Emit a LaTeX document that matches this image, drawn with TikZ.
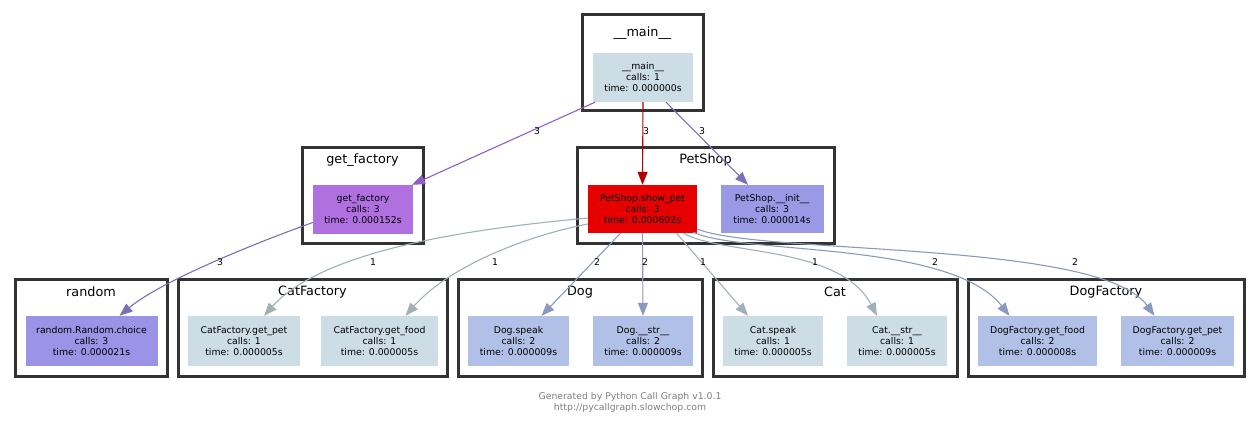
\documentclass[tikz,border=0pt]{standalone}
\usepackage{fontspec}
\setmainfont{DejaVu Sans}
\usetikzlibrary{arrows.meta}

\definecolor{clusterc}{RGB}{51,51,51}
\definecolor{mainc}{RGB}{204,221,230}
\definecolor{getfc}{RGB}{176,112,224}
\definecolor{showc}{RGB}{230,0,0}
\definecolor{initc}{RGB}{153,153,230}
\definecolor{randc}{RGB}{154,147,230}
\definecolor{dogc}{RGB}{176,192,230}
\definecolor{epurple}{RGB}{145,95,195}
\definecolor{ered}{RGB}{180,0,0}
\definecolor{eviolet}{RGB}{122,112,185}
\definecolor{egrey}{RGB}{160,176,182}
\definecolor{eblue}{RGB}{138,154,190}
\definecolor{footc}{RGB}{128,128,128}

\tikzset{
  cluster/.style={draw=clusterc, line width=3pt, rectangle, inner sep=0pt, minimum height=96pt},
  clabel/.style={font=\fontsize{12.8}{14}\selectfont, inner sep=0pt},
  fn/.style={rectangle, inner sep=0pt, minimum height=49pt, align=center,
    font=\fontsize{9.3}{11}\selectfont},
  elab/.style={font=\fontsize{9.3}{11}\selectfont, inner sep=0pt},
  call/.style={line width=1.1pt, -{Triangle[length=13pt,width=10pt]}},
}

\begin{document}
\begin{tikzpicture}[x=1pt,y=-1pt]
  \useasboundingbox (0,0) rectangle (1260,425);

  % clusters
  \node[cluster, minimum width=121pt] (cmain) at (642.5,63) {};
  \node[clabel] at (642.5,33) {\_\_main\_\_};
  \node[cluster, minimum width=121pt] (cgetf) at (362.5,195) {};
  \node[clabel] at (362.5,160) {get\_factory};
  \node[cluster, minimum width=257pt] (cpet) at (705.5,195) {};
  \node[clabel] at (705.5,160) {PetShop};
  \node[cluster, minimum width=152pt, minimum height=97pt] (crand) at (91,327.5) {};
  \node[clabel] at (91,292) {random};
  \node[cluster, minimum width=269pt, minimum height=97pt] (ccatf) at (312.5,327.5) {};
  \node[clabel] at (312.5,292) {CatFactory};
  \node[cluster, minimum width=244pt, minimum height=97pt] (cdog) at (580,327.5) {};
  \node[clabel] at (580,292) {Dog};
  \node[cluster, minimum width=244pt, minimum height=97pt] (ccat) at (835,327.5) {};
  \node[clabel] at (835,292) {Cat};
  \node[cluster, minimum width=276pt, minimum height=97pt] (cdogf) at (1106,327.5) {};
  \node[clabel] at (1106,292) {DogFactory};

  % functions
  \node[fn, fill=mainc, minimum width=100pt] (main) at (643,77.5) {\_\_main\_\_\\calls: 1\\time: 0.000000s};
  \node[fn, fill=getfc, minimum width=100pt] (getf) at (363,209.5) {get\_factory\\calls: 3\\time: 0.000152s};
  \node[fn, fill=showc, minimum width=109pt, minimum height=48pt] (show) at (642.5,209) {PetShop.show\_pet\\calls: 3\\time: 0.000602s};
  \node[fn, fill=initc, minimum width=103pt, minimum height=48pt] (init) at (772,209) {PetShop.\_\_init\_\_\\calls: 3\\time: 0.000014s};
  \node[fn, fill=randc, minimum width=132pt, minimum height=50pt] (choice) at (91.5,341) {random.Random.choice\\calls: 3\\time: 0.000021s};
  \node[fn, fill=mainc, minimum width=112pt, minimum height=50pt] (catpet) at (244,341) {CatFactory.get\_pet\\calls: 1\\time: 0.000005s};
  \node[fn, fill=mainc, minimum width=117pt, minimum height=50pt] (catfood) at (379.5,341) {CatFactory.get\_food\\calls: 1\\time: 0.000005s};
  \node[fn, fill=dogc, minimum width=101pt, minimum height=50pt] (dspeak) at (518.5,341) {Dog.speak\\calls: 2\\time: 0.000009s};
  \node[fn, fill=dogc, minimum width=100pt, minimum height=50pt] (dstr) at (643,341) {Dog.\_\_str\_\_\\calls: 2\\time: 0.000009s};
  \node[fn, fill=mainc, minimum width=100pt, minimum height=50pt] (cspeak) at (773,341) {Cat.speak\\calls: 1\\time: 0.000005s};
  \node[fn, fill=mainc, minimum width=100pt, minimum height=50pt] (cstr) at (897,341) {Cat.\_\_str\_\_\\calls: 1\\time: 0.000005s};
  \node[fn, fill=dogc, minimum width=119pt, minimum height=50pt] (dogfood) at (1037.5,341) {DogFactory.get\_food\\calls: 2\\time: 0.000008s};
  \node[fn, fill=dogc, minimum width=113pt, minimum height=50pt] (dogpet) at (1177.5,341) {DogFactory.get\_pet\\calls: 2\\time: 0.000009s};

  % calls
  \draw[call, epurple] ([xshift=-48pt]main.south) -- ([xshift=49pt]getf.north);
  \draw[call, ered] (main.south) -- (show.north);
  \draw[call, eviolet] ([xshift=23pt]main.south) -- ([xshift=-24pt]init.north);
  \draw[call, eviolet] ([yshift=-13pt]getf.west) .. controls (250,245) and (160,282) .. ([xshift=28pt]choice.north);
  \draw[call, egrey] ([yshift=-9pt]show.west) .. controls (480,228) and (325,248) .. ([xshift=20pt]catpet.north);
  \draw[call, egrey] ([yshift=-15pt]show.west) .. controls (530,235) and (450,265) .. ([xshift=26pt]catfood.north);
  \draw[call, eblue] ([xshift=-22pt]show.south) -- ([xshift=23pt]dspeak.north);
  \draw[call, eblue] (show.south) -- (dstr.north);
  \draw[call, egrey] ([xshift=34pt]show.south) -- ([xshift=-25pt]cspeak.north);
  \draw[call, egrey] ([xshift=41pt]show.south) .. controls (720,255) and (840,245) .. ([xshift=-20pt]cstr.north);
  \draw[call, eblue] ([xshift=51pt,yshift=1pt]show.south) .. controls (740,255) and (950,240) .. ([xshift=-28pt]dogfood.north);
  \draw[call, eblue] ([yshift=-20pt]show.east) .. controls (760,255) and (1100,240) .. ([xshift=-23pt]dogpet.north);

  % counts
  \node[elab] (n1) at (537,131) {3};
  \node[elab] (n2) at (646,131) {3};
  \node[elab] (n3) at (702,131) {3};
  \node[elab] (n4) at (220,262) {3};
  \node[elab] (n5) at (373,262) {1};
  \node[elab] (n6) at (495,262) {1};
  \node[elab] (n7) at (597,262) {2};
  \node[elab] (n8) at (645,262) {2};
  \node[elab] (n9) at (703,262) {1};
  \node[elab] (n10) at (815,262) {1};
  \node[elab] (n11) at (935,262) {2};
  \node[elab] (n12) at (1075,262) {2};

  % footer
  \node[elab, text=footc, align=center] (foot) at (630,402) {Generated by Python Call Graph v1.0.1\\http://pycallgraph.slowchop.com};
\end{tikzpicture}
\end{document}
